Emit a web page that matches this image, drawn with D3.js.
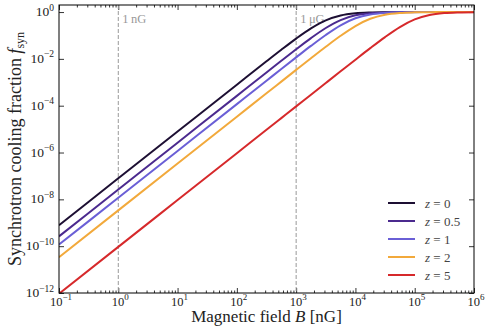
<!DOCTYPE html>
<html>
<head>
<meta charset="utf-8">
<script src="https://cdn.jsdelivr.net/npm/d3@7"></script>
<style>
  body { margin: 0; background: #fff; }
  svg { display: block; font-family: "Liberation Serif", serif; }
</style>
</head>
<body>
<svg id="viz"></svg>
<script>
// magnetic field grid [nG]
const bField = [0.1, 1, 10, 100, 316, 562, 1000, 1778, 3162, 5623, 1e4, 17783, 31623, 56234, 1e5, 177828, 316228, 562341, 1e6];

// synchrotron cooling fraction per redshift
const fZ0  = [7.9e-10, 7.9e-8, 7.9e-6, 7.9e-4, 7.88e-3, 0.0245, 0.0736, 0.201, 0.443, 0.715, 0.888, 0.962, 0.9876, 0.996, 0.9987, 0.9996, 0.9999, 1, 1];
const fZ05 = [2.63e-10, 2.63e-8, 2.63e-6, 2.63e-4, 2.62e-3, 0.00825, 0.0256, 0.0768, 0.208, 0.454, 0.725, 0.893, 0.963, 0.988, 0.9962, 0.9988, 0.9996, 0.9999, 1];
const fZ1  = [1.17e-10, 1.17e-8, 1.17e-6, 1.17e-4, 1.17e-3, 0.00371, 0.0116, 0.0358, 0.105, 0.271, 0.540, 0.788, 0.922, 0.974, 0.9916, 0.9973, 0.9991, 0.9997, 0.9999];
const fZ2  = [3.39e-11, 3.39e-9, 3.39e-7, 3.39e-5, 3.39e-4, 0.00107, 0.00338, 0.0106, 0.0328, 0.0968, 0.253, 0.517, 0.772, 0.915, 0.971, 0.9907, 0.9971, 0.9991, 0.9997];
const fZ5  = [9.3e-13, 9.33e-11, 9.33e-9, 9.33e-7, 9.33e-6, 2.95e-5, 9.33e-5, 2.95e-4, 9.32e-4, 0.00294, 0.00924, 0.0287, 0.0853, 0.228, 0.483, 0.747, 0.903, 0.967, 0.9894];

const zLabels = ["0", "0.5", "1", "2", "5"];
const seriesF = [fZ0, fZ05, fZ1, fZ2, fZ5];
const colors = ["#1d0f33", "#4b2a8e", "#6a5fd6", "#f2a93b", "#d6292b"];

const xMajor = [-1, 0, 1, 2, 3, 4, 5, 6];
const yMajor = [0, -2, -4, -6, -8, -10, -12];
const markers = [{ b: 1, label: "1\u2009nG" }, { b: 1000, label: "1\u2009\u03bcG" }];

const width = 488, height = 335;
const margin = { left: 59, right: 14, top: 5, bottom: 42 };

const svg = d3.select("#viz").attr("width", width).attr("height", height);

const x = d3.scaleLog().domain([0.1, 1e6]).range([margin.left, width - margin.right]);
const y = d3.scaleLog().domain([1e-12, 2]).range([height - margin.bottom, margin.top]);

const [x0, x1] = x.range();
const [y0, y1] = y.range();

svg.append("clipPath").attr("id", "clip")
  .append("rect").attr("x", x0).attr("y", y1).attr("width", x1 - x0).attr("height", y0 - y1);

// minor x ticks
const xMinor = [];
for (let e = -1; e < 6; e++) for (let m = 2; m <= 9; m++) xMinor.push(m * Math.pow(10, e));
const xMajorVals = xMajor.map(e => Math.pow(10, e));
const yMajorVals = yMajor.map(e => Math.pow(10, e));

function ticks(axisFn, scale, vals, size, tr) {
  const g = svg.append("g").attr("transform", tr)
    .call(axisFn(scale).tickValues(vals).tickSize(size).tickFormat(""));
  g.select(".domain").remove();
  g.selectAll("line").attr("stroke", "#000").attr("stroke-width", 0.8);
  return g;
}
ticks(d3.axisBottom, x, xMajorVals, -5, `translate(0,${y0})`);
ticks(d3.axisBottom, x, xMinor, -2.5, `translate(0,${y0})`);
ticks(d3.axisTop, x, xMajorVals, -5, `translate(0,${y1})`);
ticks(d3.axisTop, x, xMinor, -2.5, `translate(0,${y1})`);
ticks(d3.axisLeft, y, yMajorVals, -5, `translate(${x0},0)`);
ticks(d3.axisRight, y, yMajorVals, -5, `translate(${x1},0)`);

// reference lines
svg.append("g").selectAll("line").data(markers).join("line")
  .attr("x1", d => x(d.b)).attr("x2", d => x(d.b))
  .attr("y1", y1).attr("y2", y0)
  .attr("stroke", "#999").attr("stroke-width", 1).attr("stroke-dasharray", "4,2");
svg.append("g").selectAll("text").data(markers).join("text")
  .attr("x", d => x(d.b) + 4).attr("y", 23)
  .attr("fill", "#999").attr("font-size", 12.5)
  .text(d => d.label);

// curves
const line = d3.line().x(d => x(d[0])).y(d => y(d[1])).curve(d3.curveMonotoneX);
svg.append("g").attr("clip-path", "url(#clip)")
  .selectAll("path").data(seriesF).join("path")
  .attr("d", f => line(bField.map((b, i) => [b, f[i]])))
  .attr("fill", "none")
  .attr("stroke", (f, i) => colors[i])
  .attr("stroke-width", 2);

// frame
svg.append("rect").attr("x", x0).attr("y", y1).attr("width", x1 - x0).attr("height", y0 - y1)
  .attr("fill", "none").attr("stroke", "#000").attr("stroke-width", 1);

// tick labels with superscripts
function power(sel, e, size) {
  sel.append("tspan").text("10");
  sel.append("tspan").attr("dy", -5.5).attr("font-size", size).text(e < 0 ? "\u2212" + (-e) : e);
}
svg.append("g").selectAll("text").data(xMajor).join("text")
  .attr("x", e => x(Math.pow(10, e)) + 2).attr("y", y0 + 12.5)
  .attr("text-anchor", "middle").attr("font-size", 12.5).attr("fill", "#222")
  .each(function (e) { power(d3.select(this), e, 9); });
svg.append("g").selectAll("text").data(yMajor).join("text")
  .attr("x", x0 - 5).attr("y", e => y(Math.pow(10, e)) + 4)
  .attr("text-anchor", "end").attr("font-size", 13.5).attr("fill", "#222")
  .each(function (e) { power(d3.select(this), e, 9.5); });

// axis titles
const xt = svg.append("text").attr("x", (x0 + x1) / 2).attr("y", 322)
  .attr("text-anchor", "middle").attr("font-size", 17).attr("fill", "#222");
xt.append("tspan").text("Magnetic field ");
xt.append("tspan").attr("font-style", "italic").text("B");
xt.append("tspan").text(" [nG]");

const yt = svg.append("text")
  .attr("transform", `translate(21,${(y0 + y1) / 2}) rotate(-90)`)
  .attr("text-anchor", "middle").attr("font-size", 18).attr("fill", "#222");
yt.append("tspan").text("Synchrotron cooling fraction ");
yt.append("tspan").attr("font-style", "italic").text("f");
yt.append("tspan").attr("dy", 3).attr("font-size", 12).text("syn");

// legend
const leg = svg.append("g").attr("transform", "translate(388,203)");
const item = leg.selectAll("g").data(zLabels).join("g")
  .attr("transform", (d, i) => `translate(0,${i * 18})`);
item.append("line").attr("x1", 0).attr("x2", 27)
  .attr("stroke", (d, i) => colors[i]).attr("stroke-width", 2);
const lt = item.append("text").attr("x", 37).attr("y", 4.5).attr("font-size", 13).attr("fill", "#444");
lt.append("tspan").attr("font-style", "italic").text("z");
lt.append("tspan").text(d => " = " + d);
</script>
</body>
</html>
